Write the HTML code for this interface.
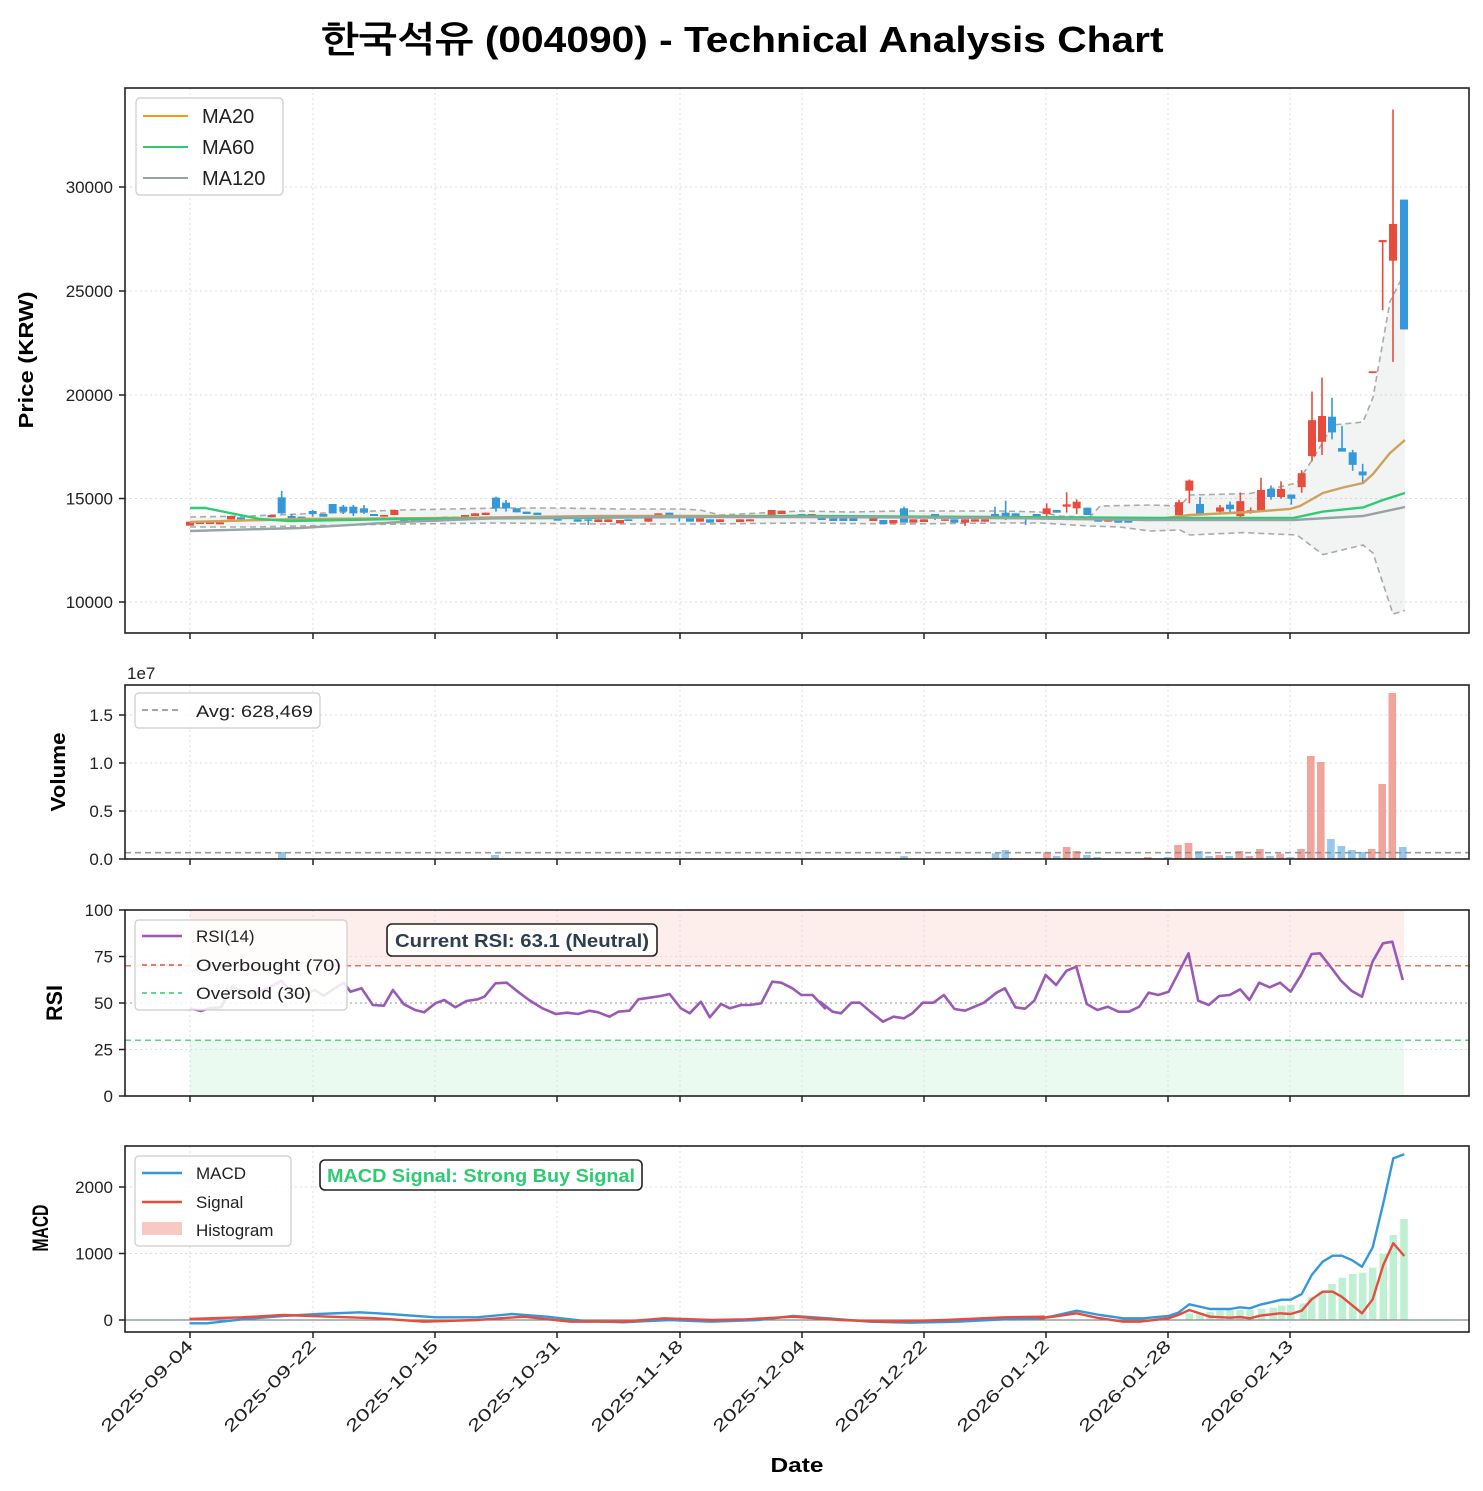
<!DOCTYPE html>
<html><head><meta charset="utf-8">
<style>
html,body{margin:0;padding:0;background:#fff;}
svg{display:block;font-family:"Liberation Sans","NanumGothic","Noto Sans CJK KR",sans-serif;}
</style></head>
<body>
<svg id="c" width="1483" height="1491" viewBox="0 0 1483 1491" xmlns="http://www.w3.org/2000/svg"></svg>
<script>
const S=[];
const R='#e74c3c',B='#3498db';
function P(a,fx,fy){return a.map(p=>(fx(p[0])).toFixed(1)+','+(fy(p[1])).toFixed(1)).join(' ');}
function id(v){return v;}
S.push('<text x="742" y="52" text-anchor="middle" font-size="36" font-weight="bold" textLength="843" lengthAdjust="spacingAndGlyphs" fill="#000">한국석유 (004090) - Technical Analysis Chart</text>');
const xt=[190,313,435,557,680,802,924,1046,1168,1290];
const dates=['2025-09-04','2025-09-22','2025-10-15','2025-10-31','2025-11-18','2025-12-04','2025-12-22','2026-01-12','2026-01-28','2026-02-13'];
function frame(y0,y1,yt){
  let s='';
  xt.forEach(x=>{s+=`<line x1="${x}" y1="${y0}" x2="${x}" y2="${y1}" stroke="#ddd" stroke-width="1" stroke-dasharray="2,3"/>`;
    s+=`<line x1="${x}" y1="${y1}" x2="${x}" y2="${y1+6}" stroke="#222" stroke-width="1.5"/>`;});
  yt.forEach(t=>{s+=`<line x1="125" y1="${t[0]}" x2="1469" y2="${t[0]}" stroke="#ddd" stroke-width="1" stroke-dasharray="2,3"/>`;
    s+=`<line x1="119" y1="${t[0]}" x2="125" y2="${t[0]}" stroke="#222" stroke-width="1.5"/>`;
    s+=`<text x="113" y="${t[0]+6}" text-anchor="end" font-size="17" fill="#222">${t[1]}</text>`;});
  return s;
}
function box(y0,y1){return `<rect x="125" y="${y0}" width="1344" height="${y1-y0}" fill="none" stroke="#222" stroke-width="1.6"/>`;}
function ylab(x,y,t,len,fs){return `<text transform="translate(${x},${y}) rotate(-90)" text-anchor="middle" font-size="${fs||20}" font-weight="bold" textLength="${len}" lengthAdjust="spacingAndGlyphs">${t}</text>`;}

S.push(frame(88,633,[[602,'10000'],[498.5,'15000'],[395,'20000'],[291,'25000'],[187,'30000']]));
const up=[[190,517],[250,516],[300,514],[350,512],[400,510],[450,509],[500,508],[560,508],[620,509],[680,509],[700,510],[720,515],[760,513],[800,511],[850,512],[900,511],[950,511],[1000,511],[1040,512],[1060,516],[1090,517],[1100,506],[1150,505],[1180,506],[1190,495],[1250,493.5],[1297,483],[1313,458.6],[1333,425],[1363,422],[1373,397.5],[1390,301.5],[1405,272]];
const lo=[[190,527],[250,527],[300,526],[400,524],[500,523],[600,524],[700,524],[800,523],[900,524],[1000,523],[1040,523],[1090,526],[1120,527],[1150,531],[1180,530],[1190,535],[1243,532.6],[1297,535],[1323,554.6],[1363,545],[1373,553],[1393,614],[1405,610.5]];
S.push(`<polygon points="${P(up.concat(lo.slice().reverse()),id,id)}" fill="#95a5a6" fill-opacity="0.12"/>`);
S.push(`<polyline points="${P(up,id,id)}" fill="none" stroke="#aaa" stroke-width="1.6" stroke-dasharray="6,4"/>`);
S.push(`<polyline points="${P(lo,id,id)}" fill="none" stroke="#aaa" stroke-width="1.6" stroke-dasharray="6,4"/>`);
function candles(arr,fx,fy){
  arr.forEach(c=>{const x=fx(c[0]);const bt=fy(c[1]),bb=fy(c[2]);const wt=fy(c[3]!=null?c[3]:c[1]),wb=fy(c[4]!=null?c[4]:c[2]);
    const col=c[5]=='r'?R:B;
    S.push(`<line x1="${x}" y1="${wt}" x2="${x}" y2="${wb}" stroke="${col}" stroke-width="1.6"/>`);
    S.push(`<rect x="${x-4}" y="${bt}" width="8" height="${Math.max(bb-bt,1.5)}" fill="${col}"/>`);});
}
const z2=[[195,245,257,null,null,'r'],[225,247,252,null,null,'r'],[255,244,252,null,null,'r'],[285,247,253,null,null,'r'],[318,228,238,null,null,'r'],[348,232,238,null,null,'b'],[380,238,242,null,null,'r'],[440,225,232,null,null,'r'],[470,172,220,153,222,'b'],[500,228,235,222,null,'b'],[530,230,236,null,null,'b'],[563,213,222,210,230,'b'],[595,222,230,null,null,'b'],[623,192,220,null,null,'b'],[655,200,215,195,222,'b'],[685,200,220,195,228,'b'],[717,205,218,195,222,'b'],[747,222,228,null,null,'b'],[777,225,230,null,null,'r'],[808,210,225,null,null,'r'],[838,238,245,null,null,'b'],[870,238,245,null,null,'r'],[900,238,245,null,null,'b'],[930,238,245,null,null,'r'],[960,230,234,null,null,'b'],[990,230,234,null,null,'b'],[1020,225,232,null,null,'r'],[1050,220,228,null,null,'r'],[1082,218,225,null,null,'r'],[1113,173,205,170,215,'b'],[1143,188,205,180,215,'b'],[1175,205,217,null,null,'b'],[1205,215,222,null,null,'b'],[1237,218,225,null,null,'b'],[1298,235,242,null,null,'b'],[1358,238,245,null,null,'b'],[1390,238,242,238,255,'b'],[1420,238,246,null,null,'r'],[1450,238,246,null,null,'r']];
candles(z2,x=>125+x/3,y=>440+y/3);
const z7=[[0,240,250,null,null,'r'],[25,238,243,null,null,'b'],[85,228,245,null,null,'r'],[115,220,235,null,null,'r'],[148,218,228,null,null,'b'],[178,225,232,225,245,'b'],[210,235,245,null,null,'b'],[240,235,245,null,null,'r'],[270,238,248,null,null,'b'],[300,238,246,null,null,'r'],[360,238,246,null,null,'r'],[390,238,244,null,null,'r'],[455,210,225,null,null,'r'],[485,212,222,null,null,'r'],[545,222,230,null,null,'b'],[575,222,228,null,null,'r'],[605,230,240,null,null,'b'],[640,235,243,null,null,'b'],[670,235,243,null,null,'b'],[700,235,243,null,null,'b'],[760,235,243,null,null,'r'],[790,240,252,null,null,'b'],[820,240,250,null,null,'r'],[852,205,248,200,248,'b'],[880,238,248,null,null,'r'],[912,238,246,null,null,'r'],[945,222,232,222,240,'b'],[975,238,242,null,null,'r'],[1003,238,248,null,null,'b'],[1035,238,248,238,258,'r'],[1065,238,245,null,null,'r'],[1095,238,245,null,null,'r'],[1125,222,232,200,232,'b'],[1157,218,228,182,240,'b'],[1187,220,230,null,null,'b'],[1217,230,235,230,255,'b'],[1250,222,230,null,null,'b'],[1280,205,222,190,228,'r'],[1310,210,218,null,null,'b'],[1340,193,200,157,218,'r'],[1370,185,205,178,222,'r'],[1402,203,225,null,null,'b'],[1435,238,245,null,null,'b'],[1465,238,245,null,null,'r'],[1495,238,248,null,null,'b'],[1525,238,248,null,null,'b']];
candles(z7,x=>620+x/3,y=>440+y/3);
const z1=[[87,1185,1222,1178,1225,'r'],[118,1123,1152,1120,1188,'r'],[150,1190,1220,1170,1222,'b'],[180,1228,1234,null,null,'b'],[210,1200,1212,1193,1220,'r'],[240,1192,1205,1183,1213,'b'],[271,1182,1225,1157,1228,'r'],[302,1208,1215,1200,1218,'r'],[333,1150,1210,1115,1210,'r'],[363,1147,1170,1137,1178,'b'],[393,1147,1170,1125,1175,'r'],[424,1163,1175,1163,1192,'b'],[455,1102,1142,1093,1158,'r'],[486,950,1053,868,1068,'r'],[516,938,1012,828,1050,'r'],[546,940,985,886,1005,'b'],[576,1030,1040,967,1040,'b'],[608,1042,1078,1035,1095,'b'],[638,1097,1108,1075,1128,'b'],[668,810,815,null,null,'r'],[698,434,440,434,635,'r'],[729,388,493,60,783,'r'],[762,318,690,null,null,'b']];
candles(z1,x=>1150+x/3,y=>88.6+y/2.865);
const ma120=[[190,531],[300,528],[400,522],[500,518],[600,517],[800,517],[1000,518],[1150,520],[1293,520],[1363,516],[1405,507]];
const ma60=[[190,508],[205,508],[230,513],[260,519],[290,521],[400,519],[560,518],[800,516],[1000,517],[1170,518],[1293,518],[1323,511.6],[1363,507.5],[1383,500],[1405,493]];
const ma20=[[190,522],[300,519],[450,518],[600,516],[800,516],[1000,518],[1150,520],[1190,515],[1250,512],[1290,509],[1300,506],[1323,493],[1343,487.5],[1363,483],[1373,474],[1390,453],[1405,440]];
S.push(`<polyline points="${P(ma20,id,id)}" fill="none" stroke="#cfa15a" stroke-width="2.4"/>`);
S.push(`<polyline points="${P(ma60,id,id)}" fill="none" stroke="#2ecc71" stroke-width="2.4"/>`);
S.push(`<polyline points="${P(ma120,id,id)}" fill="none" stroke="#95a5a6" stroke-width="2.4"/>`);
S.push(box(88,633));
S.push('<rect x="136" y="98" width="147" height="97" rx="4" fill="#fff" fill-opacity="0.85" stroke="#ccc" stroke-width="1.2"/>');
[['MA20','#f39c12',116],['MA60','#2ecc71',147],['MA120','#95a5a6',178]].forEach(l=>{
 S.push(`<line x1="143" y1="${l[2]}" x2="188" y2="${l[2]}" stroke="${l[1]}" stroke-width="2"/>`);
 S.push(`<text x="202" y="${l[2]+7}" font-size="20" fill="#222">${l[0]}</text>`);});
S.push(ylab(33,360,'Price (KRW)',137));

S.push(frame(685,859,[[859,'0.0'],[811,'0.5'],[763,'1.0'],[715,'1.5']]));
S.push('<text x="127" y="679" font-size="17" fill="#222">1e7</text>');
const vr=[[540,577],[587,561],[610,573],[780,591],[852,555],[877,549],[950,585],[998,573],[1022,588],[1047,567],[1095,581],[1145,567],[1168,288],[1192,306],[1313,567],[1338,372],[1362,99]];
const vb=[[200,588],[418,580],[441,570],[563,588],[635,585],[660,591],[828,591],[902,573],[926,588],[974,588],[1071,588],[1119,591],[1216,537],[1241,558],[1266,570],[1291,576],[1387,561]];
function vbar(a,col){a.forEach(v=>{const x=820+v[0]/2.38,y=660+v[1]/3;S.push(`<rect x="${(x-3.8).toFixed(1)}" y="${y.toFixed(1)}" width="7.6" height="${(859-y).toFixed(1)}" fill="${col}"/>`);});}
vbar(vr,'#f1a49b');vbar(vb,'#95c8ea');
S.push('<rect x="278" y="852" width="8" height="7" fill="#95c8ea"/><rect x="491" y="855" width="8" height="4" fill="#95c8ea"/>');
S.push('<line x1="125" y1="852.7" x2="1469" y2="852.7" stroke="#7f8c8d" stroke-width="1.6" stroke-dasharray="6,4" stroke-opacity="0.85"/>');
S.push(box(685,859));
S.push('<rect x="135" y="693" width="185" height="35" rx="4" fill="#fff" fill-opacity="0.85" stroke="#ccc" stroke-width="1.2"/>');
S.push('<line x1="142" y1="710" x2="182" y2="710" stroke="#7f8c8d" stroke-width="1.6" stroke-dasharray="6,4"/>');
S.push('<text x="196" y="717" font-size="17" fill="#222" textLength="117" lengthAdjust="spacingAndGlyphs">Avg: 628,469</text>');
S.push(ylab(65,772,'Volume',79));

S.push('<rect x="190" y="910" width="1214" height="56" fill="#e74c3c" fill-opacity="0.1"/>');
S.push('<rect x="190" y="1040" width="1214" height="56" fill="#2ecc71" fill-opacity="0.1"/>');
S.push(frame(910,1096,[[1096,'0'],[1049.5,'25'],[1003,'50'],[956.5,'75'],[910,'100']]));
S.push('<line x1="125" y1="1003" x2="1469" y2="1003" stroke="#aaa" stroke-width="1.3" stroke-dasharray="2,3"/>');
S.push('<line x1="125" y1="965.8" x2="1469" y2="965.8" stroke="#e74c3c" stroke-width="1.5" stroke-dasharray="6,4" stroke-opacity="0.8"/>');
S.push('<line x1="125" y1="1040.2" x2="1469" y2="1040.2" stroke="#2ecc71" stroke-width="1.5" stroke-dasharray="6,4" stroke-opacity="0.8"/>');
const r3=[[145,1045],[170,1053],[190,1045],[215,1042],[240,980],[265,995],[290,1000],[320,985],[350,962],[375,1000],[400,1005],[425,990],[445,1007],[470,985],[490,968],[505,995],[530,985],[555,1035],[580,1037],[600,990],[625,1033],[650,1050],[670,1057],[695,1030],[715,1020],[740,1042],[765,1023],[790,1018],[805,1010],[830,970],[855,968],[880,995],[905,1020],[935,1045],[965,1062],[990,1058],[1015,1062],[1040,1052],[1060,1057],[1085,1070],[1105,1055],[1130,1052],[1150,1018],[1175,1013],[1200,1008],[1220,1002],[1245,1045],[1265,1060],[1290,1025],[1310,1072],[1335,1032],[1355,1045],[1380,1035],[1400,1035],[1425,1030],[1450,965],[1470,968],[1495,985],[1515,1005],[1540,1005],[1568,1045]];
const r4=[[0,1025],[30,1055],[50,1060],[75,1028],[95,1028],[120,1055],[150,1085],[175,1070],[200,1075],[220,1060],[245,1028],[270,1028],[295,1005],[320,1047],[345,1052],[390,1028],[420,998],[440,985],[465,1042],[488,1046],[510,1022],[537,945],[562,975],[587,932],[610,920],[635,1032],[660,1050],[685,1040],[710,1055],[735,1055],[760,1040],[782,998],[805,1005],[830,995],[877,880],[900,1022],[925,1035],[950,1008],[975,1005],[1000,988],[1022,1020],[1045,968],[1070,982],[1095,968],[1120,995],[1145,945],[1170,882],[1190,880],[1215,920],[1240,962],[1265,992],[1290,1010],[1315,905],[1340,850],[1362,845],[1387,960]];
const rsi=r3.map(p=>[125+p[0]/2.24,660+p[1]/3]).concat(r4.map(p=>[820+p[0]/2.38,660+p[1]/3]));
S.push(`<polyline points="${P(rsi,id,id)}" fill="none" stroke="#9b59b6" stroke-width="2.6" stroke-linejoin="round"/>`);
S.push(box(910,1096));
S.push('<rect x="135" y="920" width="212" height="90" rx="4" fill="#fff" fill-opacity="0.85" stroke="#ccc" stroke-width="1.2"/>');
S.push('<line x1="142" y1="936" x2="182" y2="936" stroke="#9b59b6" stroke-width="2.6"/><text x="196" y="942" font-size="17" fill="#222">RSI(14)</text>');
S.push('<line x1="142" y1="965" x2="182" y2="965" stroke="#e74c3c" stroke-width="1.5" stroke-dasharray="5,4"/><text x="196" y="971" font-size="17" fill="#222" textLength="145" lengthAdjust="spacingAndGlyphs">Overbought (70)</text>');
S.push('<line x1="142" y1="993" x2="182" y2="993" stroke="#2ecc71" stroke-width="1.5" stroke-dasharray="5,4"/><text x="196" y="999" font-size="17" fill="#222" textLength="115" lengthAdjust="spacingAndGlyphs">Oversold (30)</text>');
S.push('<rect x="387" y="924" width="270" height="32" rx="5" fill="#fff" fill-opacity="0.9" stroke="#222" stroke-width="1.6"/>');
S.push('<text x="522" y="947" text-anchor="middle" font-size="18" font-weight="bold" fill="#2c3e50" textLength="254" lengthAdjust="spacingAndGlyphs">Current RSI: 63.1 (Neutral)</text>');
S.push(ylab(62,1003,'RSI',36,22));

S.push(frame(1146,1332,[[1320,'0'],[1253.5,'1000'],[1187,'2000']]));
const hb=[[448,520],[480,518],[510,515],[540,512],[570,510],[600,510],[630,510],[665,507],[700,503],[725,497],[752,494],[790,490],[815,470],[847,455],[876,432],[907,413],[938,402],[968,398],[998,383],[1030,342],[1060,285],[1092,237]];
hb.forEach(h=>{const x=1040+h[0]/3,y=1140+h[1]/3;S.push(`<rect x="${(x-3.8).toFixed(1)}" y="${y.toFixed(1)}" width="7.6" height="${(1320-y).toFixed(1)}" fill="#2ecc71" fill-opacity="0.3"/>`);});
S.push('<line x1="125" y1="1320" x2="1469" y2="1320" stroke="#7f8c8d" stroke-width="1.3"/>');
const m6=[[110,550],[140,550],[200,538],[270,528],[330,522],[400,517],[450,522],[530,532],[600,532],[660,522],[720,530],[780,542],[850,547],[930,540],[1000,545],[1080,540],[1140,528],[1200,535],[1270,545],[1340,548],[1420,545],[1500,538],[1568,535]];
const s6=[[110,537],[200,532],[270,525],[350,530],[430,535],[510,545],[600,540],[680,530],[760,545],[850,545],[920,535],[1000,540],[1060,538],[1140,530],[1220,540],[1300,545],[1400,540],[1500,532],[1568,530]];
const m5=[[0,535],[40,528],[110,512],[180,525],[250,535],[310,535],[385,528],[415,518],[448,493],[510,507],[570,507],[600,502],[630,505],[660,494],[700,485],[725,479],[752,479],[785,462],[815,405],[848,365],[878,347],[905,347],[935,360],[966,380],[998,322],[1030,190],[1060,55],[1093,43]];
const s5=[[0,535],[40,530],[110,520],[170,533],[250,545],[300,545],[385,535],[415,525],[448,510],[510,530],[570,533],[600,531],[630,535],[660,527],[720,520],[752,522],[785,512],[815,478],[848,455],[878,455],[905,470],[966,520],[998,478],[1030,375],[1060,310],[1093,348]];
const f6=p=>[125+p[0]/1.706,1140+p[1]/3],f5=p=>[1040+p[0]/3,1140+p[1]/3];
const macd=m6.map(f6).concat(m5.map(f5)),sig=s6.map(f6).concat(s5.map(f5));
S.push(`<polyline points="${P(macd,id,id)}" fill="none" stroke="#3498db" stroke-width="2.4" stroke-linejoin="round"/>`);
S.push(`<polyline points="${P(sig,id,id)}" fill="none" stroke="#e74c3c" stroke-width="2.4" stroke-linejoin="round"/>`);
S.push(box(1146,1332));
S.push('<rect x="135" y="1156" width="156" height="90" rx="4" fill="#fff" fill-opacity="0.85" stroke="#ccc" stroke-width="1.2"/>');
S.push('<line x1="142" y1="1173" x2="182" y2="1173" stroke="#3498db" stroke-width="2.4"/><text x="196" y="1179" font-size="17" fill="#222">MACD</text>');
S.push('<line x1="142" y1="1202" x2="182" y2="1202" stroke="#e74c3c" stroke-width="2.4"/><text x="196" y="1208" font-size="17" fill="#222">Signal</text>');
S.push('<rect x="142" y="1222" width="40" height="13" fill="#e74c3c" fill-opacity="0.3"/><text x="196" y="1236" font-size="17" fill="#222">Histogram</text>');
S.push('<rect x="320" y="1160" width="322" height="30" rx="5" fill="#fff" fill-opacity="0.9" stroke="#222" stroke-width="1.6"/>');
S.push('<text x="481" y="1182" text-anchor="middle" font-size="18" font-weight="bold" fill="#2ecc71" textLength="308" lengthAdjust="spacingAndGlyphs">MACD Signal: Strong Buy Signal</text>');
S.push(ylab(48,1228,'MACD',47,22));

xt.forEach((x,i)=>{S.push(`<text transform="translate(${x+4},1347) rotate(-45)" text-anchor="end" font-size="17" fill="#222" textLength="122" lengthAdjust="spacingAndGlyphs">${dates[i]}</text>`);});
S.push('<text x="797" y="1472" text-anchor="middle" font-size="20" font-weight="bold" textLength="53" lengthAdjust="spacingAndGlyphs">Date</text>');
document.getElementById('c').innerHTML=S.join('');
</script>
</body></html>
